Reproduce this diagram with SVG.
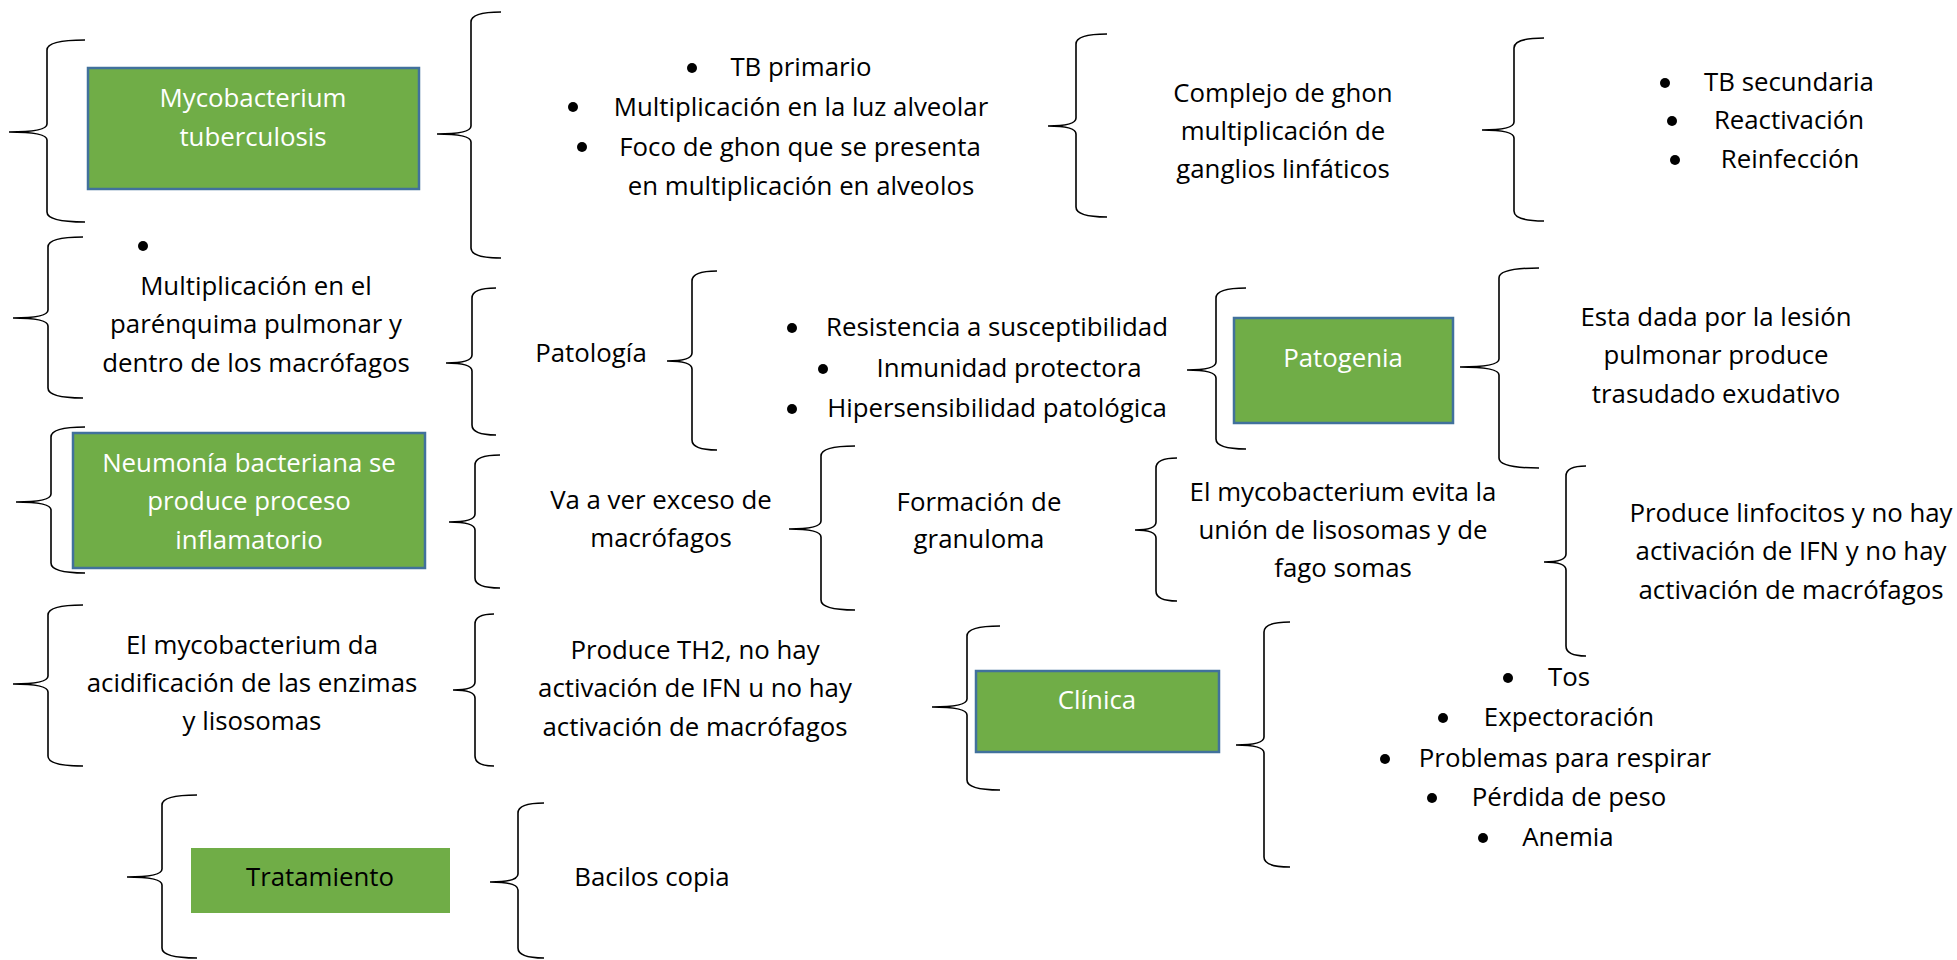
<svg xmlns="http://www.w3.org/2000/svg" width="1957" height="960" viewBox="0 0 1957 960">
<style>
text{font-family:"Open Sans","Liberation Sans",sans-serif;font-size:25.8px;fill:#000;text-anchor:middle}
.w{fill:#fff}
.box{fill:#70AD47;stroke:#41719C;stroke-width:2.5}
.plain{fill:#70AD47}
.brace path{fill:none;stroke:#000;stroke-width:1.6}
.b{fill:#000}
</style>
<rect width="1957" height="960" fill="#fff"/>
<g id="connectors" class="brace">
<path d="M85,40 Q47,40 47,50 L47,124 Q47,132 9,132 Q47,132 47,140 L47,212 Q47,222 85,222"/>
<path d="M501,12 Q471,12 471,22 L471,126 Q471,134 437,134 Q471,134 471,142 L471,248 Q471,258 501,258"/>
<path d="M1107,34 Q1076,34 1076,44 L1076,118 Q1076,126 1048,126 Q1076,126 1076,134 L1076,207 Q1076,217 1107,217"/>
<path d="M1544,38 Q1514,38 1514,48 L1514,122 Q1514,130 1482,130 Q1514,130 1514,138 L1514,211 Q1514,221 1544,221"/>
<path d="M83,237 Q48,237 48,247 L48,310 Q48,318 13,318 Q48,318 48,326 L48,388 Q48,398 83,398"/>
<path d="M496,288 Q472,288 472,298 L472,355 Q472,363 446,363 Q472,363 472,371 L472,425 Q472,435 496,435"/>
<path d="M717,271 Q692,271 692,281 L692,353 Q692,361 667,361 Q692,361 692,369 L692,440 Q692,450 717,450"/>
<path d="M1246,288 Q1216,288 1216,298 L1216,362 Q1216,370 1187,370 Q1216,370 1216,378 L1216,439 Q1216,449 1246,449"/>
<path d="M1539,268 Q1499,268 1499,278 L1499,359 Q1499,367 1460,367 Q1499,367 1499,375 L1499,458 Q1499,468 1539,468"/>
<path d="M85,427 Q51,427 51,437 L51,494 Q51,502 16,502 Q51,502 51,510 L51,563 Q51,573 85,573"/>
<path d="M500,455 Q475,455 475,465 L475,514 Q475,522 449,522 Q475,522 475,530 L475,578 Q475,588 500,588"/>
<path d="M855,446 Q821,446 821,456 L821,521 Q821,529 789,529 Q821,529 821,537 L821,600 Q821,610 855,610"/>
<path d="M1177,458 Q1156,458 1156,468 L1156,522 Q1156,530 1135,530 Q1156,530 1156,538 L1156,591 Q1156,601 1177,601"/>
<path d="M1586,466 Q1566,466 1566,476 L1566,554 Q1566,562 1544,562 Q1566,562 1566,570 L1566,646 Q1566,656 1586,656"/>
<path d="M83,605 Q48,605 48,615 L48,676 Q48,684 13,684 Q48,684 48,692 L48,756 Q48,766 83,766"/>
<path d="M494,614 Q475,614 475,624 L475,682 Q475,690 453,690 Q475,690 475,698 L475,756 Q475,766 494,766"/>
<path d="M1000,626 Q967,626 967,636 L967,699 Q967,707 932,707 Q967,707 967,715 L967,780 Q967,790 1000,790"/>
<path d="M1290,622 Q1264,622 1264,632 L1264,737 Q1264,745 1236,745 Q1264,745 1264,753 L1264,857 Q1264,867 1290,867"/>
<path d="M197,795 Q162,795 162,805 L162,869 Q162,877 127,877 Q162,877 162,885 L162,948 Q162,958 197,958"/>
<path d="M544,803 Q518,803 518,813 L518,874 Q518,882 490,882 Q518,882 518,890 L518,948 Q518,958 544,958"/>
</g>
<g id="mycobacterium">
<rect class="box" x="88" y="68" width="331" height="121"/>
<text class="w" x="253" y="107">Mycobacterium</text>
<text class="w" x="253" y="146">tuberculosis</text>
</g>
<g id="tb-primario">
<circle class="b" cx="692" cy="68" r="5"/>
<text x="801" y="76">TB primario</text>
<circle class="b" cx="573" cy="107" r="5"/>
<text x="801" y="116">Multiplicación en la luz alveolar</text>
<circle class="b" cx="582" cy="147" r="5"/>
<text x="800" y="156">Foco de ghon que se presenta</text>
<text x="801" y="195">en multiplicación en alveolos</text>
</g>
<g id="complejo-ghon">
<text x="1283" y="102">Complejo de ghon</text>
<text x="1283" y="140">multiplicación de</text>
<text x="1283" y="178">ganglios linfáticos</text>
</g>
<g id="tb-secundaria">
<circle class="b" cx="1665" cy="83" r="5"/>
<text x="1789" y="91">TB secundaria</text>
<circle class="b" cx="1672" cy="121" r="5"/>
<text x="1789" y="129">Reactivación</text>
<circle class="b" cx="1675" cy="160" r="5"/>
<text x="1790" y="168">Reinfección</text>
</g>
<g id="parenquima">
<circle class="b" cx="143" cy="246" r="5"/>
<text x="256" y="295">Multiplicación en el</text>
<text x="256" y="333">parénquima pulmonar y</text>
<text x="256" y="372">dentro de los macrófagos</text>
</g>
<g id="patologia">
<text x="591" y="362">Patología</text>
</g>
<g id="resistencia">
<circle class="b" cx="792" cy="328" r="5"/>
<text x="997" y="336">Resistencia a susceptibilidad</text>
<circle class="b" cx="823" cy="369" r="5"/>
<text x="1009" y="377">Inmunidad protectora</text>
<circle class="b" cx="792" cy="409" r="5"/>
<text x="997" y="417">Hipersensibilidad patológica</text>
</g>
<g id="patogenia">
<rect class="box" x="1234" y="318" width="219" height="105"/>
<text class="w" x="1343" y="367">Patogenia</text>
</g>
<g id="lesion">
<text x="1716" y="326">Esta dada por la lesión</text>
<text x="1716" y="364">pulmonar produce</text>
<text x="1716" y="403">trasudado exudativo</text>
</g>
<g id="neumonia">
<rect class="box" x="73" y="433" width="352" height="135"/>
<text class="w" x="249" y="472">Neumonía bacteriana se</text>
<text class="w" x="249" y="510">produce proceso</text>
<text class="w" x="249" y="549">inflamatorio</text>
</g>
<g id="exceso">
<text x="661" y="509">Va a ver exceso de</text>
<text x="661" y="547">macrófagos</text>
</g>
<g id="granuloma">
<text x="979" y="511">Formación de</text>
<text x="979" y="548">granuloma</text>
</g>
<g id="lisosomas-fago">
<text x="1343" y="501">El mycobacterium evita la</text>
<text x="1343" y="539">unión de lisosomas y de</text>
<text x="1343" y="577">fago somas</text>
</g>
<g id="linfocitos">
<text x="1791" y="522">Produce linfocitos y no hay</text>
<text x="1791" y="560">activación de IFN y no hay</text>
<text x="1791" y="599">activación de macrófagos</text>
</g>
<g id="acidificacion">
<text x="252" y="654">El mycobacterium da</text>
<text x="252" y="692">acidificación de las enzimas</text>
<text x="252" y="730">y lisosomas</text>
</g>
<g id="th2">
<text x="695" y="659">Produce TH2, no hay</text>
<text x="695" y="697">activación de IFN u no hay</text>
<text x="695" y="736">activación de macrófagos</text>
</g>
<g id="clinica">
<rect class="box" x="976" y="671" width="243" height="81"/>
<text class="w" x="1097" y="709">Clínica</text>
</g>
<g id="sintomas">
<circle class="b" cx="1508" cy="678" r="5"/>
<text x="1569" y="686">Tos</text>
<circle class="b" cx="1443" cy="718" r="5"/>
<text x="1569" y="726">Expectoración</text>
<circle class="b" cx="1385" cy="759" r="5"/>
<text x="1565" y="767">Problemas para respirar</text>
<circle class="b" cx="1432" cy="798" r="5"/>
<text x="1569" y="806">Pérdida de peso</text>
<circle class="b" cx="1483" cy="838" r="5"/>
<text x="1568" y="846">Anemia</text>
</g>
<g id="tratamiento">
<rect class="plain" x="191" y="848" width="259" height="65"/>
<text x="320" y="886">Tratamiento</text>
</g>
<g id="bacilos">
<text x="652" y="886">Bacilos copia</text>
</g>
</svg>
